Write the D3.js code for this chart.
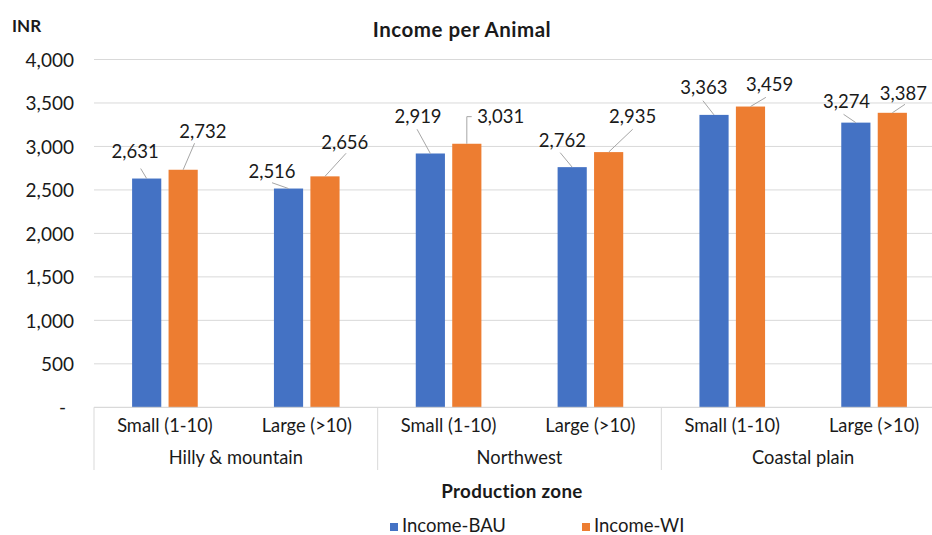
<!DOCTYPE html>
<html>
<head>
<meta charset="utf-8">
<script src="https://cdn.jsdelivr.net/npm/d3@7/dist/d3.min.js"></script>
<style>
  html, body { margin: 0; padding: 0; background: #fff; }
  svg { display: block; font-family: Lato, "Open Sans", sans-serif; }
</style>
</head>
<body>
<svg id="chart" width="932" height="535"></svg>
<script>
// Income per animal by production zone and herd size
const zones = ["Hilly & mountain", "Northwest", "Coastal plain"];
const sizes = ["Small (1-10)", "Large (>10)"];
const seriesNames = ["Income-BAU", "Income-WI"];
const incomeBAU = [2631, 2516, 2919, 2762, 3363, 3274];
const incomeWI = [2732, 2656, 3031, 2935, 3459, 3387];
const yTicks = [0, 500, 1000, 1500, 2000, 2500, 3000, 3500, 4000];
const seriesColors = ["#4472C4", "#ED7D31"];

// Label placement: text offset from the bar top [dx, dy], leader start offset
// from the text anchor [lx, ly], and whether the leader bends at a right angle.
const labelLayoutBAU = [
  [-11.5, -20.5, 5.5, 10.5, false],
  [-16.5, -10.2, 0, 4.4, false],
  [-12.3, -30.2, -1, 6, false],
  [-9.8, -19.9, -2.2, 5.4, false],
  [-10.1, -20.9, -1, 6.7, false],
  [-9.3, -14.6, -3, 6.3, false]
];
const labelLayoutWI = [
  [19.7, -31.8, -8.3, 5.3, false],
  [19.8, -27.4, 1.3, 4.3, false],
  [33.9, -20.5, -29, -6.6, true],
  [24, -28.8, 0, 6, false],
  [19.1, -15.8, -3.7, 6.6, false],
  [11, -12.8, 1.7, 4.3, false]
];

const svg = d3.select("#chart");
const plot = { left: 94, right: 945, top: 59.5, bottom: 407.3 };
const ink = "#1a1a1a";

// One band per (zone, size) category
const categories = [];
zones.forEach(z => sizes.forEach(s => categories.push({ zone: z, size: s, key: z + "|" + s })));

const x = d3.scaleBand()
  .domain(categories.map(c => c.key))
  .range([plot.left, plot.right])
  .paddingInner(0).paddingOuter(0);

const xZone = d3.scaleBand()
  .domain(zones)
  .range([plot.left, plot.right]);

const xSeries = d3.scaleBand()
  .domain(seriesNames)
  .range([0, x.bandwidth()])
  .paddingInner(0.2)
  .paddingOuter(1.045);

const y = d3.scaleLinear().domain([0, 4000]).range([plot.bottom, plot.top]);

// Gridlines
svg.append("g")
  .selectAll("line")
  .data(yTicks.filter(d => d > 0))
  .join("line")
  .attr("x1", plot.left).attr("x2", plot.right)
  .attr("y1", d => y(d)).attr("y2", d => y(d))
  .attr("stroke", "#d9d9d9").attr("stroke-width", 1);

// Y axis labels
const yAxis = d3.axisLeft(y)
  .tickValues(yTicks)
  .tickSize(0)
  .tickPadding(0)
  .tickFormat(d => d === 0 ? "-" : d3.format(",")(d));
const yG = svg.append("g")
  .attr("transform", `translate(${plot.left - 20},0)`)
  .call(yAxis);
yG.select(".domain").remove();
yG.selectAll("text")
  .attr("font-size", 19)
  .attr("fill", ink)
  .attr("font-family", "Lato, sans-serif")
  .attr("dy", "0.35em")
  .attr("dx", d => d === 0 ? -8 : 0);

// Bars
const rows = categories.map((c, i) => ({ ...c, values: [incomeBAU[i], incomeWI[i]], layouts: [labelLayoutBAU[i], labelLayoutWI[i]] }));

const barData = [];
rows.forEach(r => {
  seriesNames.forEach((s, si) => {
    barData.push({ key: r.key, series: s, si, value: r.values[si], layout: r.layouts[si] });
  });
});

svg.append("g")
  .selectAll("rect")
  .data(barData)
  .join("rect")
  .attr("x", d => x(d.key) + xSeries(d.series))
  .attr("width", xSeries.bandwidth())
  .attr("y", d => y(d.value))
  .attr("height", d => y(0) - y(d.value))
  .attr("fill", d => seriesColors[d.si]);

// X axis baseline and zone separators
svg.append("line")
  .attr("x1", plot.left).attr("x2", plot.right)
  .attr("y1", plot.bottom).attr("y2", plot.bottom)
  .attr("stroke", "#d0d0d0").attr("stroke-width", 1);

svg.append("g")
  .selectAll("line")
  .data(zones.concat(["end"]))
  .join("line")
  .attr("x1", (d, i) => i < zones.length ? xZone(d) : plot.right)
  .attr("x2", (d, i) => i < zones.length ? xZone(d) : plot.right)
  .attr("y1", plot.bottom).attr("y2", 470)
  .attr("stroke", "#d9d9d9").attr("stroke-width", 1);

// Category labels
svg.append("g")
  .selectAll("text")
  .data(categories)
  .join("text")
  .attr("x", d => x(d.key) + x.bandwidth() / 2)
  .attr("y", 432)
  .attr("text-anchor", "middle")
  .attr("font-size", 18.3)
  .attr("fill", ink)
  .text(d => d.size);

svg.append("g")
  .selectAll("text")
  .data(zones)
  .join("text")
  .attr("x", d => xZone(d) + xZone.bandwidth() / 2)
  .attr("y", 464)
  .attr("text-anchor", "middle")
  .attr("font-size", 18.3)
  .attr("fill", ink)
  .text(d => d);

// Data labels with leader lines
const labelG = svg.append("g");
barData.forEach(d => {
  const bx = x(d.key) + xSeries(d.series) + xSeries.bandwidth() / 2;
  const by = y(d.value);
  const [dx, dy, lx, ly, bend] = d.layout;
  const tx = bx + dx, ty = by + dy;
  const sx = tx + lx, sy = ty + ly;
  const path = bend
    ? `M${sx},${sy}H${bx}V${by}`
    : `M${sx},${sy}L${bx},${by}`;
  labelG.append("path")
    .attr("d", path)
    .attr("fill", "none")
    .attr("stroke", "#a6a6a6")
    .attr("stroke-width", 1);
  labelG.append("text")
    .attr("x", tx).attr("y", ty)
    .attr("text-anchor", "middle")
    .attr("font-size", 18.5)
    .attr("fill", ink)
    .text(d3.format(",")(d.value));
});

// Titles
svg.append("text")
  .attr("x", 12).attr("y", 32.3)
  .attr("font-size", 17)
  .attr("font-weight", "bold")
  .attr("fill", ink)
  .text("INR");

svg.append("text")
  .attr("x", 462).attr("y", 37.3)
  .attr("text-anchor", "middle")
  .attr("font-size", 20.5)
  .attr("letter-spacing", 0.5)
  .attr("font-weight", "bold")
  .attr("fill", ink)
  .text("Income per Animal");

svg.append("text")
  .attr("x", 512).attr("y", 498.3)
  .attr("text-anchor", "middle")
  .attr("font-size", 18.8)
  .attr("letter-spacing", 0.3)
  .attr("font-weight", "bold")
  .attr("fill", ink)
  .text("Production zone");

// Legend
const legendX = [390, 582];
const legend = svg.append("g")
  .selectAll("g")
  .data(seriesNames)
  .join("g")
  .attr("transform", (d, i) => `translate(${legendX[i]},0)`);
legend.append("rect")
  .attr("x", 0).attr("y", 523)
  .attr("width", 8).attr("height", 8)
  .attr("fill", (d, i) => seriesColors[i]);
legend.append("text")
  .attr("x", 12).attr("y", 532)
  .attr("font-size", 18.5)
  .attr("fill", ink)
  .text(d => d);
</script>
</body>
</html>
